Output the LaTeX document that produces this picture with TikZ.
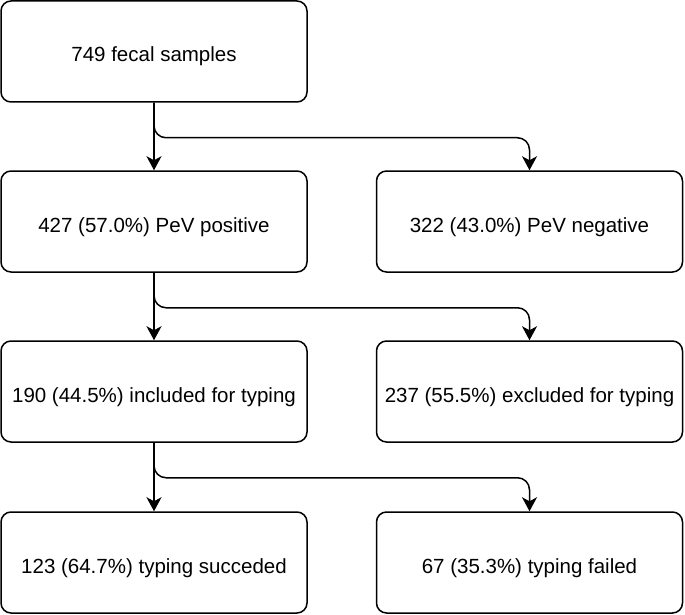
\documentclass[tikz,border=0pt]{standalone}
\usepackage{fontspec}
\setmainfont{Liberation Sans}
\usetikzlibrary{arrows.meta, positioning, calc}

\begin{document}
\begin{tikzpicture}[
  x=1pt, y=-1pt,
  box/.style={rectangle,draw=black,fill=white,rounded corners=10pt, line width=1.5pt, minimum width=306pt,minimum height=101pt,align=center,inner sep=3pt, text height=21pt, text depth=0pt, font=\fontsize{20.5}{24}\selectfont},
  fl/.style={-{Stealth[length=14pt,width=15pt,inset=4pt]},line width=1.5pt},
  br/.style={fl,rounded corners=12pt}
]
  \useasboundingbox (0,0) rectangle (685,615);

  \node[box](samples) at (154,51.5)  {749 fecal samples};
  \node[box](pos)     at (154,221.5) {427 (57.0\%) PeV positive};
  \node[box](neg)     at (529.5,221.5) {322 (43.0\%) PeV negative};
  \node[box](incl)    at (154,391.5) {190 (44.5\%) included for typing};
  \node[box](excl)    at (529.5,391.5) {237 (55.5\%) excluded for typing};
  \node[box](succ)    at (154,562.5) {123 (64.7\%) typing succeded};
  \node[box](fail)    at (529.5,562.5) {67 (35.3\%) typing failed};

  \draw[fl](samples)--(pos);
  \draw[br](samples.south)--++(0,35)-|(neg.north);
  \draw[fl](pos)--(incl);
  \draw[br](pos.south)--++(0,35)-|(excl.north);
  \draw[fl](incl)--(succ);
  \draw[br](incl.south)--++(0,35)-|(fail.north);
\end{tikzpicture}
\end{document}
